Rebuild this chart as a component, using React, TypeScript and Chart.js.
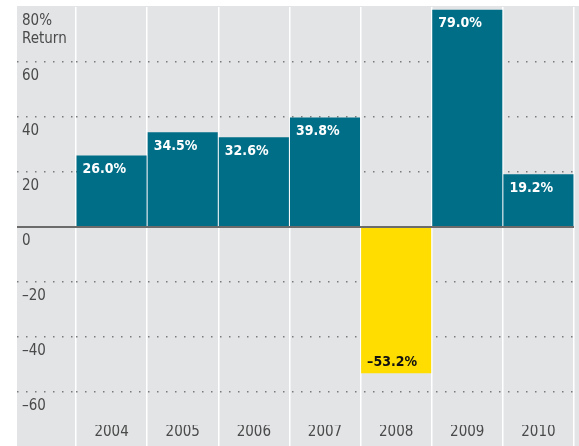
import React, { useEffect, useRef } from 'react';
import { Chart, registerables } from 'chart.js';
Chart.register(...registerables);

const years = ['2004', '2005', '2006', '2007', '2008', '2009', '2010'];
const returns = [26.0, 34.5, 32.6, 39.8, -53.2, 79.0, 19.2];
const yTicks = [80, 60, 40, 20, 0, -20, -40, -60];
const yMin = -72;
const yMax = 80;
const topTickLabel = ['', '80%', 'Return'];

const FONT = '"Liberation Sans Narrow", "DejaVu Sans Condensed", "Arial Narrow", sans-serif';
const TEAL = '#006e87';
const YELLOW = '#ffdd00';
const BG = '#e3e4e6';
const TEXT = '#4a4a4a';

export default function App() {
  const ref = useRef<HTMLCanvasElement>(null);
  useEffect(() => {
    document.body.style.margin = '0';
    document.body.style.overflow = 'hidden';
    const bgPlugin = {
      id: 'bg',
      beforeDraw(chart: any) {
        const { ctx, width, height } = chart;
        ctx.save();
        ctx.fillStyle = '#fff';
        ctx.fillRect(0, 0, width, height);
        ctx.fillStyle = BG;
        ctx.fillRect(17, chart.chartArea.top - 1, width - 17, height);
        ctx.restore();
      },
    };
    const labelPlugin = {
      id: 'vals',
      afterDatasetsDraw(chart: any) {
        const meta = chart.getDatasetMeta(0);
        const ctx = chart.ctx;
        ctx.save();
        ctx.font = `bold 14px ${FONT}`;
        ctx.textBaseline = 'middle';
        ctx.textAlign = 'left';
        meta.data.forEach((el: any, i: number) => {
          const v = returns[i];
          const { x, y, width } = el.getProps(['x', 'y', 'width'], true);
          const left = x - width / 2 + 6;
          const txt = (v < 0 ? '\u2013' : '') + Math.abs(v).toFixed(1) + '%';
          ctx.fillStyle = v < 0 ? '#111' : '#fff';
          ctx.fillText(txt, left, v < 0 ? y - 11 : y + 14);
        });
        ctx.restore();
      },
    };
    const gridColor = (c: any) =>
      c.tick && c.tick.value === 0 ? '#6b6b6b' : c.tick && c.tick.value === 80 ? 'rgba(0,0,0,0)' : '#7a7a7a';
    const gridWidth = (c: any) => (c.tick && c.tick.value === 0 ? 2 : 1.4);
    const gridDash = (c: any) => (c.tick && c.tick.value === 0 ? [] : [1.5, 7.5]);

    const chart = new Chart(ref.current!, {
      type: 'bar',
      data: {
        labels: years,
        datasets: [
          {
            data: returns,
            backgroundColor: returns.map((v) => (v < 0 ? YELLOW : TEAL)),
            borderWidth: 0,
            barPercentage: 0.985,
            categoryPercentage: 1,
          },
        ],
      },
      options: {
        responsive: false,
        animation: false,
        layout: { padding: { left: 22, right: 5, top: 7, bottom: 0 } },
        plugins: { legend: { display: false }, tooltip: { enabled: false } },
        scales: {
          x: {
            type: 'category',
            offset: true,
            grid: {
              offset: true,
              color: '#ffffff',
              lineWidth: 1.5,
              drawTicks: true,
              tickLength: 21,
              tickColor: '#ffffff',
              tickWidth: 1.5,
            },
            border: { display: false },
            ticks: {
              color: TEXT,
              font: { family: FONT, size: 15 },
              padding: -23,
              maxRotation: 0,
              autoSkip: false,
            },
            afterFit(s: any) {
              s.height = 21;
              s.paddingLeft = 0;
              s.paddingRight = 0;
            },
          },
          y: {
            min: yMin,
            max: yMax,
            afterBuildTicks(s: any) {
              s.ticks = yTicks.map((v) => ({ value: v }));
            },
            ticks: {
              callback: (v: any) =>
                v === 80 ? topTickLabel : (v < 0 ? '\u2013' : '') + Math.abs(v),
              crossAlign: 'far',
              labelOffset: 14,
              padding: 0,
              autoSkip: false,
              color: TEXT,
              font: { family: FONT, size: 15, lineHeight: 1.2 },
            },
            grid: {
              color: gridColor,
              lineWidth: gridWidth,
              drawTicks: true,
              tickLength: 59,
              tickColor: gridColor,
              tickWidth: gridWidth,
              tickBorderDash: gridDash,
            },
            border: { display: false, dash: gridDash },
            afterFit(s: any) {
              s.width = 54;
              s.paddingTop = 0;
              s.paddingBottom = 0;
            },
          },
        },
      } as any,
      plugins: [bgPlugin, labelPlugin],
    });
    return () => chart.destroy();
  }, []);
  return (
    <div style={{ width: 579, height: 446 }}>
      <canvas ref={ref} width={579} height={446} />
    </div>
  );
}
